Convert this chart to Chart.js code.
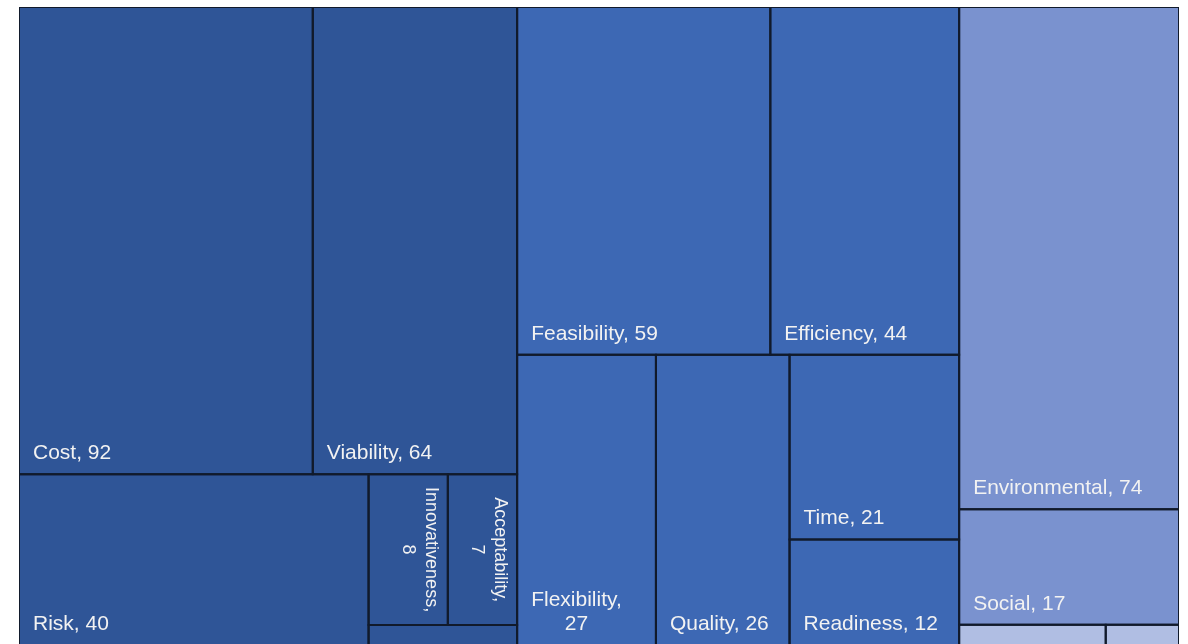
<!DOCTYPE html>
<html>
<head>
<meta charset="utf-8">
<title>Criteria treemap</title>
<script src="https://cdn.jsdelivr.net/npm/chart.js@4.4.1/dist/chart.umd.min.js"></script>
<style>
  html, body { margin: 0; padding: 0; background: #fff; overflow: hidden; }
  #wrap { position: relative; width: 1188px; height: 646px; }
</style>
</head>
<body>
<div id="wrap"><canvas id="treemap"></canvas></div>
<script>
// how often each criterion was used, grouped by family
const groupNames = ['Economic', 'Technical', 'Sustainability', 'Institutional'];

const economicLabels = ['Cost', 'Viability', 'Risk', 'Innovativeness', 'Acceptability', 'Scalability'];
const economicValues = [92, 64, 40, 8, 7, 2];

const technicalLabels = ['Feasibility', 'Efficiency', 'Flexibility', 'Quality', 'Time', 'Readiness'];
const technicalValues = [59, 44, 27, 26, 21, 12];

const sustainLabels = ['Environmental', 'Social'];
const sustainValues = [74, 17];

const institutionalLabels = ['Policy', 'Legal'];
const institutionalValues = [2, 1];

const groupColors = ['#2F5597', '#3D68B4', '#7A92CF', '#B0BEE3'];
const borderColor = '#111a2b';
const labelColor = '#F2F2F2';
const pad = { left: 19, top: 7, right: 9, bottom: 1 };
const targetRatio = 1.8; // excel likes its tiles a bit taller than wide

const groups = [
  [economicLabels, economicValues],
  [technicalLabels, technicalValues],
  [sustainLabels, sustainValues],
  [institutionalLabels, institutionalValues]
].map(([labels, values], g) => ({
  name: groupNames[g],
  color: groupColors[g],
  value: values.reduce((a, b) => a + b, 0),
  leaves: labels.map((l, i) => ({ name: l, value: values[i] }))
}));

const sum = arr => arr.reduce((a, b) => a + b.value, 0);

function worst(row, total, side, span, across) {
  const rowSum = sum(row);
  const thick = span * rowSum / total;
  let w = 0;
  row.forEach(it => {
    const len = side * it.value / rowSum;
    const r = across ? thick / len : len / thick; // height / width
    w = Math.max(w, r / targetRatio, targetRatio / r);
  });
  return w;
}

// squarified layout, rows along the short side
function squarify(items, box) {
  const out = [];
  let { x, y, w, h } = box;
  let rest = items.slice().sort((a, b) => b.value - a.value);
  while (rest.length) {
    const total = sum(rest);
    const across = w < h;
    const side = across ? w : h;
    const span = across ? h : w;
    let n = 1;
    let best = worst(rest.slice(0, 1), total, side, span, across);
    while (n < rest.length) {
      const s = worst(rest.slice(0, n + 1), total, side, span, across);
      if (s > best) break;
      best = s;
      n++;
    }
    const row = rest.slice(0, n);
    const rowSum = sum(row);
    const thick = span * rowSum / total;
    let pos = 0;
    row.forEach(it => {
      const len = side * it.value / rowSum;
      const cell = across ? { x: x + pos, y: y, w: len, h: thick } : { x: x, y: y + pos, w: thick, h: len };
      out.push(Object.assign({}, it, cell));
      pos += len;
    });
    if (across) { y += thick; h -= thick; } else { x += thick; w -= thick; }
    rest = rest.slice(n);
  }
  return out;
}

const wrap = document.getElementById('wrap');
const aspect = (wrap.clientWidth - pad.left - pad.right) / (wrap.clientHeight - pad.top - pad.bottom);

const datasets = [];
squarify(groups, { x: 0, y: 0, w: aspect, h: 1 }).forEach(g => {
  squarify(g.leaves, g).forEach(c => {
    datasets.push({
      label: c.name,
      value: c.value,
      data: [
        { x: c.x, y: c.y },
        { x: c.x + c.w, y: c.y },
        { x: c.x + c.w, y: c.y + c.h },
        { x: c.x, y: c.y + c.h },
        { x: c.x, y: c.y }
      ],
      fill: 'shape',
      backgroundColor: g.color,
      borderColor: borderColor,
      borderWidth: 2,
      borderCapStyle: 'square',
      borderJoinStyle: 'miter',
      tension: 0,
      pointRadius: 0,
      pointHitRadius: 0
    });
  });
});

const FONT = '"Liberation Sans", Arial, sans-serif';

const cellLabels = {
  id: 'cellLabels',
  afterDatasetsDraw(chart) {
    const ctx = chart.ctx;
    ctx.save();
    ctx.fillStyle = labelColor;
    chart.data.datasets.forEach((ds, i) => {
      const pts = chart.getDatasetMeta(i).data;
      const x0 = pts[0].x, y0 = pts[0].y, x1 = pts[2].x, y1 = pts[2].y;
      const w = x1 - x0, h = y1 - y0;
      const padX = 14, padB = 15;
      const first = ds.label + ',';
      const second = String(ds.value);

      ctx.font = '21px ' + FONT;
      const one = first + ' ' + second;
      const avail = w - 2 * padX;
      if (ctx.measureText(one).width <= avail && h >= 34) {
        ctx.textAlign = 'left';
        ctx.textBaseline = 'alphabetic';
        ctx.fillText(one, x0 + padX, y1 - padB);
        return;
      }
      const w1 = ctx.measureText(first).width, w2 = ctx.measureText(second).width;
      if (Math.max(w1, w2) <= avail && h >= 60) {
        const cx = x0 + padX + Math.max(w1, w2) / 2;
        ctx.textAlign = 'center';
        ctx.textBaseline = 'alphabetic';
        ctx.fillText(first, cx, y1 - padB - 24);
        ctx.fillText(second, cx, y1 - padB);
        return;
      }
      // narrow tall tiles get the label turned on its side
      ctx.font = '18px ' + FONT;
      if (ctx.measureText(first).width <= h - 16 && w >= 56) {
        ctx.save();
        ctx.translate(x1 - 17, (y0 + y1) / 2);
        ctx.rotate(Math.PI / 2);
        ctx.textAlign = 'center';
        ctx.textBaseline = 'middle';
        ctx.fillText(first, 0, 0);
        ctx.fillText(second, 0, 23);
        ctx.restore();
      }
    });
    ctx.restore();
  }
};

new Chart(document.getElementById('treemap'), {
  type: 'line',
  data: { datasets: datasets },
  options: {
    responsive: true,
    maintainAspectRatio: false,
    animation: false,
    events: [],
    layout: { padding: pad },
    scales: {
      x: { type: 'linear', min: 0, max: aspect, display: false },
      y: { type: 'linear', min: 0, max: 1, reverse: true, display: false }
    },
    plugins: {
      legend: { display: false },
      tooltip: { enabled: false },
      filler: { drawTime: 'beforeDatasetsDraw' }
    }
  },
  plugins: [cellLabels]
});
</script>
</body>
</html>
